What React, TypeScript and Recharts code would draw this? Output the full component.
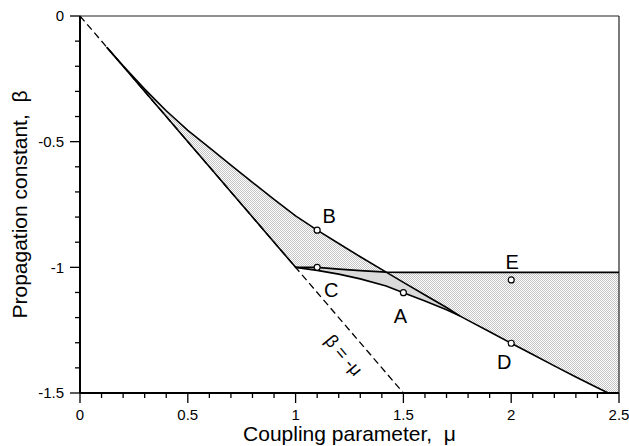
import { ComposedChart, Line, Area, Scatter, XAxis, YAxis, ReferenceLine } from 'recharts';

const FONT = '"Liberation Sans", Arial, Helvetica, sans-serif';

// beta = -mu reference line (dashed)
const diagMu = [0, 1.5];
const diagBeta = [0, -1.5];

// lower solid edge, lying on beta = -mu up to the kink
const boundMu = [0.124, 0.2, 0.3, 0.4, 0.5, 0.6, 0.7, 0.8, 0.9, 1.0];
const boundBeta = [-0.124, -0.2, -0.3, -0.4, -0.5, -0.6, -0.7, -0.8, -0.9, -1.0];

// upper curve through B
const branchBMu = [0.124, 0.2, 0.3, 0.4, 0.5, 0.6, 0.7, 0.8, 0.9, 1.0, 1.1, 1.2, 1.3, 1.42, 1.5, 1.6, 1.7, 1.763];
const branchBBeta = [-0.124, -0.198, -0.291, -0.377, -0.455, -0.524, -0.593, -0.662, -0.73, -0.795, -0.852, -0.905, -0.958, -1.019, -1.06, -1.11, -1.16, -1.194];

// branch through C, flattening out at about -1.02
const branchCMu = [1.0, 1.1, 1.2, 1.3, 1.42, 1.5, 1.6, 1.7, 1.763, 1.8, 1.9, 2.0, 2.1, 2.2, 2.3, 2.4, 2.45, 2.5];
const branchCBeta = [-1.0, -1.0, -1.007, -1.013, -1.019, -1.02, -1.02, -1.02, -1.02, -1.02, -1.02, -1.02, -1.02, -1.02, -1.02, -1.02, -1.02, -1.02];

// branch through A
const branchAMu = [1.0, 1.1, 1.2, 1.3, 1.42, 1.5, 1.6, 1.7, 1.763];
const branchABeta = [-1.0, -1.012, -1.027, -1.046, -1.074, -1.101, -1.134, -1.169, -1.194];

// merged branch through D
const branchDMu = [1.763, 1.8, 1.9, 2.0, 2.1, 2.2, 2.3, 2.4, 2.45];
const branchDBeta = [-1.194, -1.211, -1.256, -1.302, -1.347, -1.392, -1.436, -1.479, -1.5];

// labelled points
const markerNames = ['A', 'B', 'C', 'D', 'E'];
const markerMu = [1.5, 1.1, 1.1, 2.0, 2.0];
const markerBeta = [-1.101, -0.852, -1.0, -1.302, -1.05];

const lineLabelMu = [1.33];
const lineLabelBeta = [-1.33];

const xTicks = [0, 0.1, 0.2, 0.3, 0.4, 0.5, 0.6, 0.7, 0.8, 0.9, 1, 1.1, 1.2, 1.3, 1.4, 1.5, 1.6, 1.7, 1.8, 1.9, 2, 2.1, 2.2, 2.3, 2.4, 2.5];
const yTicks = [-1.5, -1.4, -1.3, -1.2, -1.1, -1, -0.9, -0.8, -0.7, -0.6, -0.5, -0.4, -0.3, -0.2, -0.1, 0];

// where the regions change boundaries
const KINK = 1.0;
const CROSS = 1.42;
const MERGE = 1.763;
const D_END = 2.45;
const FLOOR = -1.5;

// text offsets of the point letters (px)
const letterOffset: Record<string, [number, number]> = {
  A: [-3, 23],
  B: [12, -14],
  C: [14, 23],
  D: [-7, 19],
  E: [1, -18],
};

const pts = (mu: number[], beta: number[]) => mu.map((x, i) => ({ x, y: beta[i] }));
const at = (mu: number[], beta: number[], x: number) => {
  const i = mu.findIndex((m) => Math.abs(m - x) < 1e-9);
  return beta[i];
};

const stippleMu = Array.from(new Set([...boundMu, ...branchBMu, ...branchCMu])).sort((a, b) => a - b);
const stippleData = stippleMu.map((x) => {
  let low: number;
  if (x <= KINK) low = at(boundMu, boundBeta, x);
  else if (x <= CROSS) low = at(branchCMu, branchCBeta, x);
  else if (x <= MERGE) low = at(branchBMu, branchBBeta, x);
  else if (x <= D_END) low = at(branchDMu, branchDBeta, x);
  else low = FLOOR;
  const high = x <= CROSS ? at(branchBMu, branchBBeta, x) : at(branchCMu, branchCBeta, x);
  return { x, r: [low, high] };
});

const greyData = branchAMu.map((x) => ({
  x,
  r: [
    at(branchAMu, branchABeta, x),
    x <= CROSS ? at(branchCMu, branchCBeta, x) : at(branchBMu, branchBBeta, x),
  ],
}));

const markerData = markerMu.map((x, i) => ({ x, y: markerBeta[i], name: markerNames[i] }));
const lineLabelData = pts(lineLabelMu, lineLabelBeta);

const isMajor = (v: number) => Math.abs(v * 2 - Math.round(v * 2)) < 1e-6;

const XTick = (p: any) => {
  const { x, y, payload } = p;
  const major = isMajor(payload.value);
  return (
    <g>
      <line x1={x} y1={y} x2={x} y2={y + (major ? 10 : 5)} stroke="#000" strokeWidth={1.3} />
      {major && (
        <text x={x} y={y + 27} textAnchor="middle" fontSize={15} fontFamily={FONT} fill="#000">
          {String(payload.value)}
        </text>
      )}
    </g>
  );
};

const YTick = (p: any) => {
  const { x, y, payload } = p;
  const major = isMajor(payload.value);
  return (
    <g>
      <line x1={x - (major ? 10 : 5)} y1={y} x2={x} y2={y} stroke="#000" strokeWidth={1.3} />
      {major && (
        <text x={x - 16} y={y + 5.4} textAnchor="end" fontSize={15} fontFamily={FONT} fill="#000">
          {String(payload.value)}
        </text>
      )}
    </g>
  );
};

const MarkerShape = (p: any) => {
  const { cx, cy, payload } = p;
  const [dx, dy] = letterOffset[payload.name];
  return (
    <g>
      <circle cx={cx} cy={cy} r={3} fill="#fff" stroke="#000" strokeWidth={1.2} />
      <text
        x={cx + dx}
        y={cy + dy + 7}
        textAnchor="middle"
        fontSize={20}
        fontFamily={FONT}
        fill="#000"
      >
        {payload.name}
      </text>
    </g>
  );
};

const LineLabelShape = (p: any) => {
  const { cx, cy } = p;
  const tx = cx - 23;
  const ty = cy + 5;
  return (
    <text
      x={tx}
      y={ty + 6}
      textAnchor="middle"
      fontSize={18}
      fontFamily={FONT}
      fill="#000"
      transform={`rotate(50, ${tx}, ${ty})`}
    >
      β = -μ
    </text>
  );
};

export default function App() {
  return (
    <div style={{ width: 629, height: 446 }}>
      <style>{'body{margin:0;overflow:hidden}'}</style>
      <ComposedChart width={629} height={446} margin={{ top: 16, right: 10, bottom: 0, left: 0 }}>
        <defs>
          <pattern id="stipple" width="2" height="2" patternUnits="userSpaceOnUse">
            <rect width="2" height="2" fill="#ffffff" />
            <rect x="0" y="0" width="1" height="1" fill="#c4c4c4" />
            <rect x="1" y="1" width="1" height="1" fill="#c4c4c4" />
          </pattern>
        </defs>
        <XAxis
          type="number"
          dataKey="x"
          domain={[0, 2.5]}
          ticks={xTicks}
          interval={0}
          height={53}
          tickSize={0}
          tickMargin={0}
          tickLine={false}
          axisLine={{ stroke: '#000', strokeWidth: 2 }}
          tick={(p: any) => <XTick {...p} />}
          label={{
            content: (p: any) => {
              const vb = p.viewBox;
              return (
                <text
                  x={vb.x + vb.width / 2}
                  y={vb.y + 48}
                  textAnchor="middle"
                  fontSize={21}
                  fontFamily={FONT}
                  fill="#000"
                >
                  Coupling parameter,{'\u00a0 '}μ
                </text>
              );
            },
          }}
        />
        <YAxis
          type="number"
          domain={[-1.5, 0]}
          ticks={yTicks}
          interval={0}
          width={80}
          tickSize={0}
          tickMargin={0}
          tickLine={false}
          axisLine={{ stroke: '#000', strokeWidth: 2 }}
          tick={(p: any) => <YTick {...p} />}
          label={{
            content: (p: any) => {
              const vb = p.viewBox;
              const x = vb.x + 27;
              const y = vb.y + vb.height / 2;
              return (
                <text
                  x={x}
                  y={y}
                  textAnchor="middle"
                  fontSize={21}
                  fontFamily={FONT}
                  fill="#000"
                  transform={`rotate(-90, ${x}, ${y})`}
                >
                  Propagation constant,{'\u00a0 '}β
                </text>
              );
            },
          }}
        />
        <ReferenceLine y={0} stroke="#222" strokeWidth={1.2} />
        <ReferenceLine x={2.5} stroke="#222" strokeWidth={1.2} />

        <Area
          data={stippleData}
          dataKey="r"
          type="linear"
          stroke="none"
          fill="url(#stipple)"
          fillOpacity={1}
          connectNulls
          isAnimationActive={false}
          activeDot={false}
        />
        <Area
          data={greyData}
          dataKey="r"
          type="linear"
          stroke="none"
          fill="#dadada"
          fillOpacity={1}
          isAnimationActive={false}
          activeDot={false}
        />

        <Line
          data={pts(diagMu, diagBeta)}
          dataKey="y"
          type="linear"
          stroke="#000"
          strokeWidth={1.3}
          strokeDasharray="7 4"
          dot={false}
          activeDot={false}
          isAnimationActive={false}
        />
        {[
          pts(boundMu, boundBeta),
          pts(branchBMu, branchBBeta),
          pts(branchCMu, branchCBeta),
          pts(branchAMu, branchABeta),
          pts(branchDMu, branchDBeta),
        ].map((d, i) => (
          <Line
            key={i}
            data={d}
            dataKey="y"
            type="linear"
            stroke="#000"
            strokeWidth={1.6}
            dot={false}
            activeDot={false}
            isAnimationActive={false}
          />
        ))}

        <Scatter
          data={lineLabelData}
          dataKey="y"
          shape={(p: any) => <LineLabelShape {...p} />}
          isAnimationActive={false}
        />
        <Scatter
          data={markerData}
          dataKey="y"
          shape={(p: any) => <MarkerShape {...p} />}
          isAnimationActive={false}
        />
      </ComposedChart>
    </div>
  );
}
